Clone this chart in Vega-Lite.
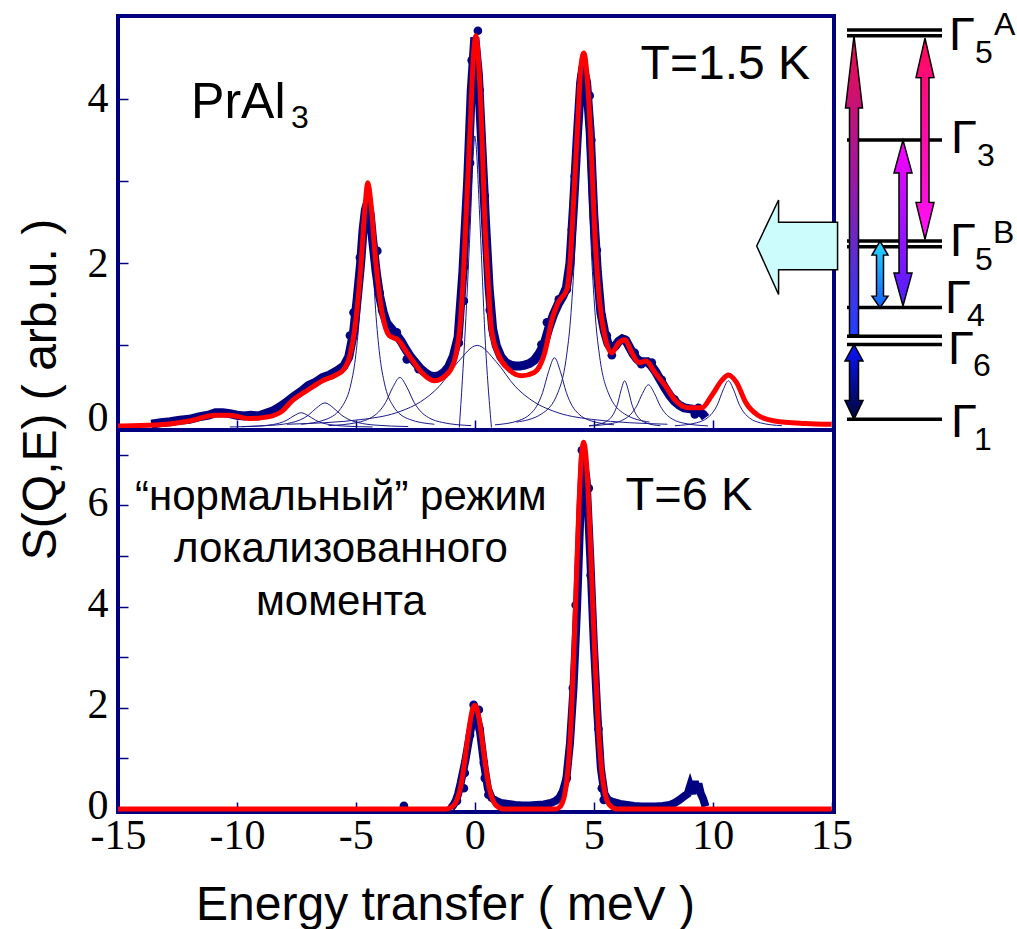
{
  "$schema": "https://vega.github.io/schema/vega-lite/v6.json",
  "autosize": {"type": "pad"},
  "padding": {"left": 15, "top": 6, "right": 0, "bottom": 0},
  "background": "white",
  "config": {
    "view": {"stroke": "#000080", "strokeWidth": 4},
    "axis": {"domain": false, "grid": false, "tickColor": "#000080", "tickWidth": 1.5, "tickSize": -10, "labelFont": "Liberation Serif", "labelFontSize": 42, "labelColor": "black", "labelFlush": false, "labelOverlap": false, "titleFont": "Liberation Sans", "titleFontSize": 48, "titleFontWeight": "normal", "titleColor": "black"},
    "text": {"font": "Liberation Sans", "color": "black"}
  },
  "datasets": {
    "fit15": [
      {"x": -15, "v": 0.02}, {"x": -14.75, "v": 0.02}, {"x": -13.4, "v": 0.03}, {"x": -12.0, "v": 0.08}, {"x": -10.9, "v": 0.15}, {"x": -10.3, "v": 0.15}, {"x": -9.5, "v": 0.11}, {"x": -8.7, "v": 0.13}, {"x": -8.1, "v": 0.2}, {"x": -7.7, "v": 0.32}, {"x": -7.0, "v": 0.46}, {"x": -6.4, "v": 0.57}, {"x": -5.9, "v": 0.63}, {"x": -5.5, "v": 0.71}, {"x": -5.25, "v": 0.88}, {"x": -5.0, "v": 1.31}, {"x": -4.8, "v": 1.92}, {"x": -4.6, "v": 2.74}, {"x": -4.5, "v": 2.98}, {"x": -4.37, "v": 2.74}, {"x": -4.2, "v": 2.13}, {"x": -3.9, "v": 1.4}, {"x": -3.6, "v": 1.12}, {"x": -3.2, "v": 1.06}, {"x": -2.94, "v": 0.95}, {"x": -2.5, "v": 0.77}, {"x": -2.2, "v": 0.66}, {"x": -1.7, "v": 0.57}, {"x": -1.1, "v": 0.67}, {"x": -0.8, "v": 0.88}, {"x": -0.6, "v": 1.31}, {"x": -0.47, "v": 1.92}, {"x": -0.34, "v": 2.74}, {"x": -0.2, "v": 3.62}, {"x": -0.05, "v": 4.56}, {"x": 0.04, "v": 4.77}, {"x": 0.18, "v": 4.35}, {"x": 0.3, "v": 3.55}, {"x": 0.42, "v": 2.53}, {"x": 0.57, "v": 1.73}, {"x": 0.7, "v": 1.19}, {"x": 1.0, "v": 0.88}, {"x": 1.42, "v": 0.71}, {"x": 1.97, "v": 0.63}, {"x": 2.5, "v": 0.67}, {"x": 2.94, "v": 0.91}, {"x": 3.24, "v": 1.31}, {"x": 3.5, "v": 1.52}, {"x": 3.87, "v": 1.68}, {"x": 4.0, "v": 2.0}, {"x": 4.15, "v": 2.74}, {"x": 4.3, "v": 3.55}, {"x": 4.45, "v": 4.35}, {"x": 4.58, "v": 4.56}, {"x": 4.75, "v": 4.16}, {"x": 4.87, "v": 3.55}, {"x": 5.05, "v": 2.33}, {"x": 5.25, "v": 1.52}, {"x": 5.46, "v": 1.12}, {"x": 5.75, "v": 0.91}, {"x": 6.05, "v": 1.03}, {"x": 6.3, "v": 1.07}, {"x": 6.6, "v": 0.91}, {"x": 6.9, "v": 0.79}, {"x": 7.2, "v": 0.81}, {"x": 7.57, "v": 0.67}, {"x": 8.0, "v": 0.51}, {"x": 8.4, "v": 0.34}, {"x": 9.0, "v": 0.24}, {"x": 9.54, "v": 0.24}, {"x": 9.96, "v": 0.39}, {"x": 10.4, "v": 0.58}, {"x": 10.66, "v": 0.64}, {"x": 11.0, "v": 0.55}, {"x": 11.4, "v": 0.3}, {"x": 11.9, "v": 0.15}, {"x": 12.6, "v": 0.08}, {"x": 13.9, "v": 0.05}, {"x": 15.0, "v": 0.04}
    ],
    "data15": [
      {"x": -13.6, "v": 0.04}, {"x": -13.2, "v": 0.06}, {"x": -12.8, "v": 0.07}, {"x": -12.4, "v": 0.09}, {"x": -12.0, "v": 0.1}, {"x": -11.6, "v": 0.13}, {"x": -11.2, "v": 0.15}, {"x": -10.9, "v": 0.18}, {"x": -10.6, "v": 0.18}, {"x": -10.3, "v": 0.17}, {"x": -10.0, "v": 0.15}, {"x": -9.7, "v": 0.14}, {"x": -9.4, "v": 0.15}, {"x": -9.1, "v": 0.14}, {"x": -8.8, "v": 0.17}, {"x": -8.5, "v": 0.2}, {"x": -8.2, "v": 0.25}, {"x": -7.9, "v": 0.31}, {"x": -7.6, "v": 0.38}, {"x": -7.3, "v": 0.44}, {"x": -7.0, "v": 0.51}, {"x": -6.7, "v": 0.55}, {"x": -6.4, "v": 0.61}, {"x": -6.1, "v": 0.64}, {"x": -5.8, "v": 0.69}, {"x": -5.5, "v": 0.75}, {"x": -5.3, "v": 0.86}, {"x": -5.1, "v": 1.15}, {"x": -4.95, "v": 1.55}, {"x": -4.8, "v": 2.0}, {"x": -4.7, "v": 2.4}, {"x": -4.6, "v": 2.65}, {"x": -4.5, "v": 2.75}, {"x": -4.4, "v": 2.6}, {"x": -4.3, "v": 2.3}, {"x": -4.15, "v": 1.9}, {"x": -4.0, "v": 1.6}, {"x": -3.85, "v": 1.4}, {"x": -3.7, "v": 1.27}, {"x": -3.5, "v": 1.2}, {"x": -3.3, "v": 1.13}, {"x": -3.1, "v": 1.05}, {"x": -2.9, "v": 0.95}, {"x": -2.7, "v": 0.86}, {"x": -2.5, "v": 0.79}, {"x": -2.3, "v": 0.72}, {"x": -2.1, "v": 0.67}, {"x": -1.9, "v": 0.63}, {"x": -1.7, "v": 0.62}, {"x": -1.5, "v": 0.63}, {"x": -1.3, "v": 0.67}, {"x": -1.1, "v": 0.74}, {"x": -0.9, "v": 0.87}, {"x": -0.7, "v": 1.1}, {"x": -0.5, "v": 1.9}, {"x": -0.3, "v": 3.0}, {"x": -0.15, "v": 4.1}, {"x": 0.0, "v": 4.75}, {"x": 0.15, "v": 4.3}, {"x": 0.3, "v": 3.4}, {"x": 0.45, "v": 2.5}, {"x": 0.6, "v": 1.7}, {"x": 0.75, "v": 1.2}, {"x": 0.9, "v": 1.0}, {"x": 1.1, "v": 0.86}, {"x": 1.3, "v": 0.79}, {"x": 1.5, "v": 0.76}, {"x": 1.7, "v": 0.75}, {"x": 1.9, "v": 0.75}, {"x": 2.1, "v": 0.76}, {"x": 2.3, "v": 0.78}, {"x": 2.5, "v": 0.82}, {"x": 2.7, "v": 0.9}, {"x": 2.9, "v": 1.0}, {"x": 3.1, "v": 1.2}, {"x": 3.3, "v": 1.37}, {"x": 3.5, "v": 1.5}, {"x": 3.7, "v": 1.6}, {"x": 3.85, "v": 1.7}, {"x": 4.0, "v": 2.0}, {"x": 4.15, "v": 2.7}, {"x": 4.3, "v": 3.5}, {"x": 4.45, "v": 4.2}, {"x": 4.55, "v": 4.4}, {"x": 4.7, "v": 4.2}, {"x": 4.85, "v": 3.6}, {"x": 5.0, "v": 2.6}, {"x": 5.15, "v": 1.9}, {"x": 5.3, "v": 1.4}, {"x": 5.45, "v": 1.17}, {"x": 5.6, "v": 1.02}, {"x": 5.75, "v": 0.96}, {"x": 5.9, "v": 0.99}, {"x": 6.05, "v": 1.05}, {"x": 6.2, "v": 1.08}, {"x": 6.35, "v": 1.06}, {"x": 6.5, "v": 0.98}, {"x": 6.65, "v": 0.9}, {"x": 6.8, "v": 0.84}, {"x": 6.95, "v": 0.8}, {"x": 7.1, "v": 0.8}, {"x": 7.25, "v": 0.8}, {"x": 7.4, "v": 0.76}, {"x": 7.6, "v": 0.68}, {"x": 7.8, "v": 0.58}, {"x": 8.0, "v": 0.48}, {"x": 8.2, "v": 0.39}, {"x": 8.4, "v": 0.32}, {"x": 8.6, "v": 0.27}, {"x": 8.8, "v": 0.24}, {"x": 9.0, "v": 0.23}, {"x": 9.2, "v": 0.22}, {"x": 9.4, "v": 0.2}, {"x": 9.6, "v": 0.16}, {"x": 9.7, "v": 0.12}
    ],
    "dots15": [
      {"x": -5.25, "v": 1.12}, {"x": -5.1, "v": 1.4}, {"x": -4.83, "v": 2.07}, {"x": -4.55, "v": 2.58}, {"x": -4.1, "v": 2.15}, {"x": -4.0, "v": 1.64}, {"x": -3.9, "v": 1.43}, {"x": -3.28, "v": 1.16}, {"x": -2.86, "v": 0.83}, {"x": -2.36, "v": 0.71}, {"x": -0.67, "v": 1.03}, {"x": -0.46, "v": 1.54}, {"x": -0.46, "v": 1.95}, {"x": -0.2, "v": 3.22}, {"x": -0.13, "v": 4.47}, {"x": 0.13, "v": 4.83}, {"x": 0.2, "v": 4.11}, {"x": 0.42, "v": 2.82}, {"x": 0.5, "v": 2.27}, {"x": 0.63, "v": 1.43}, {"x": 0.8, "v": 1.12}, {"x": 2.8, "v": 1.01}, {"x": 3.03, "v": 1.28}, {"x": 3.53, "v": 1.56}, {"x": 3.87, "v": 1.68}, {"x": 4.08, "v": 2.41}, {"x": 4.2, "v": 3.06}, {"x": 4.5, "v": 4.29}, {"x": 4.83, "v": 4.04}, {"x": 4.9, "v": 3.5}, {"x": 5.13, "v": 2.16}, {"x": 5.34, "v": 1.36}, {"x": 5.55, "v": 1.12}, {"x": 5.76, "v": 0.88}, {"x": 6.3, "v": 1.07}, {"x": 6.72, "v": 0.91}, {"x": 7.0, "v": 0.77}, {"x": 7.44, "v": 0.79}, {"x": 7.86, "v": 0.58}, {"x": 8.4, "v": 0.34}, {"x": 9.25, "v": 0.16}, {"x": 9.4, "v": 0.24}
    ],
    "comp15": [
      {"c": "C1", "x": -0.65, "v": 0}, {"c": "C1", "x": -0.4, "v": 1.2}, {"c": "C1", "x": -0.2, "v": 2.4}, {"c": "C1", "x": -0.05, "v": 3.4}, {"c": "C1", "x": 0, "v": 3.55}, {"c": "C1", "x": 0.05, "v": 3.45}, {"c": "C1", "x": 0.2, "v": 2.6}, {"c": "C1", "x": 0.45, "v": 1.0}, {"c": "C1", "x": 0.7, "v": 0},
      {"c": "C2", "x": -7.9, "v": 0.04}, {"c": "C2", "x": -4.7, "v": 0.1}, {"c": "C2", "x": -3.1, "v": 0.2}, {"c": "C2", "x": -2.3, "v": 0.31}, {"c": "C2", "x": -1.5, "v": 0.5}, {"c": "C2", "x": -0.7, "v": 0.8}, {"c": "C2", "x": 0.1, "v": 1.0}, {"c": "C2", "x": 0.9, "v": 0.8}, {"c": "C2", "x": 1.7, "v": 0.5}, {"c": "C2", "x": 2.5, "v": 0.31}, {"c": "C2", "x": 3.3, "v": 0.2}, {"c": "C2", "x": 4.9, "v": 0.1}, {"c": "C2", "x": 8.1, "v": 0.04},
      {"c": "C3", "x": -7.3, "v": 0.04}, {"c": "C3", "x": -6.25, "v": 0.1}, {"c": "C3", "x": -5.55, "v": 0.27}, {"c": "C3", "x": -5.2, "v": 0.54}, {"c": "C3", "x": -5.025, "v": 0.83}, {"c": "C3", "x": -4.85, "v": 1.35}, {"c": "C3", "x": -4.675, "v": 2.16}, {"c": "C3", "x": -4.5, "v": 2.7}, {"c": "C3", "x": -4.325, "v": 2.16}, {"c": "C3", "x": -4.15, "v": 1.35}, {"c": "C3", "x": -3.975, "v": 0.83}, {"c": "C3", "x": -3.8, "v": 0.54}, {"c": "C3", "x": -3.45, "v": 0.27}, {"c": "C3", "x": -2.75, "v": 0.1}, {"c": "C3", "x": -1.7, "v": 0.04},
      {"c": "C4", "x": -6.15, "v": 0.023}, {"c": "C4", "x": -4.95, "v": 0.061}, {"c": "C4", "x": -4.35, "v": 0.122}, {"c": "C4", "x": -4.05, "v": 0.188}, {"c": "C4", "x": -3.75, "v": 0.305}, {"c": "C4", "x": -3.45, "v": 0.488}, {"c": "C4", "x": -3.15, "v": 0.61}, {"c": "C4", "x": -2.85, "v": 0.488}, {"c": "C4", "x": -2.55, "v": 0.305}, {"c": "C4", "x": -2.25, "v": 0.188}, {"c": "C4", "x": -1.95, "v": 0.122}, {"c": "C4", "x": -1.35, "v": 0.061}, {"c": "C4", "x": -0.15, "v": 0.023},
      {"c": "C5", "x": -9.8, "v": 0.012}, {"c": "C5", "x": -8.4, "v": 0.03}, {"c": "C5", "x": -7.7, "v": 0.06}, {"c": "C5", "x": -7.35, "v": 0.092}, {"c": "C5", "x": -7.0, "v": 0.15}, {"c": "C5", "x": -6.65, "v": 0.24}, {"c": "C5", "x": -6.3, "v": 0.3}, {"c": "C5", "x": -5.95, "v": 0.24}, {"c": "C5", "x": -5.6, "v": 0.15}, {"c": "C5", "x": -5.25, "v": 0.092}, {"c": "C5", "x": -4.9, "v": 0.06}, {"c": "C5", "x": -4.2, "v": 0.03}, {"c": "C5", "x": -2.8, "v": 0.012},
      {"c": "C6", "x": -10.3, "v": 0.007}, {"c": "C6", "x": -9.1, "v": 0.018}, {"c": "C6", "x": -8.5, "v": 0.036}, {"c": "C6", "x": -8.2, "v": 0.055}, {"c": "C6", "x": -7.9, "v": 0.09}, {"c": "C6", "x": -7.6, "v": 0.144}, {"c": "C6", "x": -7.3, "v": 0.18}, {"c": "C6", "x": -7.0, "v": 0.144}, {"c": "C6", "x": -6.7, "v": 0.09}, {"c": "C6", "x": -6.4, "v": 0.055}, {"c": "C6", "x": -6.1, "v": 0.036}, {"c": "C6", "x": -5.5, "v": 0.018}, {"c": "C6", "x": -4.3, "v": 0.007},
      {"c": "C7", "x": 0.85, "v": 0.033}, {"c": "C7", "x": 1.85, "v": 0.085}, {"c": "C7", "x": 2.35, "v": 0.17}, {"c": "C7", "x": 2.6, "v": 0.26}, {"c": "C7", "x": 2.85, "v": 0.425}, {"c": "C7", "x": 3.1, "v": 0.68}, {"c": "C7", "x": 3.35, "v": 0.85}, {"c": "C7", "x": 3.6, "v": 0.68}, {"c": "C7", "x": 3.85, "v": 0.425}, {"c": "C7", "x": 4.1, "v": 0.26}, {"c": "C7", "x": 4.35, "v": 0.17}, {"c": "C7", "x": 4.85, "v": 0.085}, {"c": "C7", "x": 5.85, "v": 0.033},
      {"c": "C8", "x": 1.75, "v": 0.066}, {"c": "C8", "x": 2.8, "v": 0.165}, {"c": "C8", "x": 3.5, "v": 0.43}, {"c": "C8", "x": 3.85, "v": 0.86}, {"c": "C8", "x": 4.025, "v": 1.32}, {"c": "C8", "x": 4.2, "v": 2.15}, {"c": "C8", "x": 4.375, "v": 3.44}, {"c": "C8", "x": 4.55, "v": 4.3}, {"c": "C8", "x": 4.725, "v": 3.44}, {"c": "C8", "x": 4.9, "v": 2.15}, {"c": "C8", "x": 5.075, "v": 1.32}, {"c": "C8", "x": 5.25, "v": 0.86}, {"c": "C8", "x": 5.6, "v": 0.43}, {"c": "C8", "x": 6.3, "v": 0.165}, {"c": "C8", "x": 7.35, "v": 0.066},
      {"c": "C9", "x": 4.8, "v": 0.022}, {"c": "C9", "x": 5.4, "v": 0.057}, {"c": "C9", "x": 5.7, "v": 0.114}, {"c": "C9", "x": 5.85, "v": 0.176}, {"c": "C9", "x": 6.0, "v": 0.285}, {"c": "C9", "x": 6.15, "v": 0.456}, {"c": "C9", "x": 6.3, "v": 0.57}, {"c": "C9", "x": 6.45, "v": 0.456}, {"c": "C9", "x": 6.6, "v": 0.285}, {"c": "C9", "x": 6.75, "v": 0.176}, {"c": "C9", "x": 6.9, "v": 0.114}, {"c": "C9", "x": 7.2, "v": 0.057}, {"c": "C9", "x": 7.8, "v": 0.022},
      {"c": "C10", "x": 4.8, "v": 0.02}, {"c": "C10", "x": 5.8, "v": 0.052}, {"c": "C10", "x": 6.3, "v": 0.104}, {"c": "C10", "x": 6.55, "v": 0.16}, {"c": "C10", "x": 6.8, "v": 0.26}, {"c": "C10", "x": 7.05, "v": 0.416}, {"c": "C10", "x": 7.3, "v": 0.52}, {"c": "C10", "x": 7.55, "v": 0.416}, {"c": "C10", "x": 7.8, "v": 0.26}, {"c": "C10", "x": 8.05, "v": 0.16}, {"c": "C10", "x": 8.3, "v": 0.104}, {"c": "C10", "x": 8.8, "v": 0.052}, {"c": "C10", "x": 9.8, "v": 0.02},
      {"c": "C11", "x": 8.41, "v": 0.022}, {"c": "C11", "x": 9.31, "v": 0.057}, {"c": "C11", "x": 9.76, "v": 0.114}, {"c": "C11", "x": 9.985, "v": 0.176}, {"c": "C11", "x": 10.21, "v": 0.285}, {"c": "C11", "x": 10.435, "v": 0.456}, {"c": "C11", "x": 10.66, "v": 0.57}, {"c": "C11", "x": 10.885, "v": 0.456}, {"c": "C11", "x": 11.11, "v": 0.285}, {"c": "C11", "x": 11.335, "v": 0.176}, {"c": "C11", "x": 11.56, "v": 0.114}, {"c": "C11", "x": 12.01, "v": 0.057}, {"c": "C11", "x": 12.91, "v": 0.022}
    ],
    "cyan": [
      {"x": 11.85, "v": 2.21, "v2": 2.21}, {"x": 12.77, "v": 1.62, "v2": 2.77}, {"x": 12.771, "v": 1.92, "v2": 2.5}, {"x": 15.25, "v": 1.92, "v2": 2.5}
    ],
    "ann15": [
      {"x": -11.93, "v": 3.77, "t": "PrAl", "k": "pr"}, {"x": -7.73, "v": 3.65, "t": "3", "k": "sub"}, {"x": 6.97, "v": 4.24, "t": "T=1.5 K", "k": "big"}
    ],
    "fit6": [
      {"x": -15, "v": 0}, {"x": -1.2, "v": 0}, {"x": -1.0, "v": 0.03}, {"x": -0.8, "v": 0.13}, {"x": -0.7, "v": 0.25}, {"x": -0.6, "v": 0.43}, {"x": -0.5, "v": 0.7}, {"x": -0.4, "v": 1.03}, {"x": -0.3, "v": 1.39}, {"x": -0.2, "v": 1.72}, {"x": -0.1, "v": 1.96}, {"x": 0, "v": 2.05}, {"x": 0.1, "v": 1.96}, {"x": 0.2, "v": 1.72}, {"x": 0.3, "v": 1.39}, {"x": 0.4, "v": 1.03}, {"x": 0.5, "v": 0.7}, {"x": 0.6, "v": 0.43}, {"x": 0.7, "v": 0.25}, {"x": 0.8, "v": 0.13}, {"x": 1.0, "v": 0.03}, {"x": 1.2, "v": 0}, {"x": 3.4, "v": 0}, {"x": 3.57, "v": 0.04}, {"x": 3.67, "v": 0.11}, {"x": 3.77, "v": 0.26}, {"x": 3.87, "v": 0.57}, {"x": 3.97, "v": 1.11}, {"x": 4.07, "v": 1.97}, {"x": 4.17, "v": 3.15}, {"x": 4.27, "v": 4.54}, {"x": 4.37, "v": 5.89}, {"x": 4.47, "v": 6.88}, {"x": 4.57, "v": 7.25}, {"x": 4.67, "v": 6.98}, {"x": 4.77, "v": 6.21}, {"x": 4.87, "v": 5.12}, {"x": 4.97, "v": 3.91}, {"x": 5.07, "v": 2.76}, {"x": 5.17, "v": 1.81}, {"x": 5.27, "v": 1.09}, {"x": 5.37, "v": 0.61}, {"x": 5.47, "v": 0.32}, {"x": 5.57, "v": 0.15}, {"x": 5.77, "v": 0.03}, {"x": 5.97, "v": 0}, {"x": 15, "v": 0}
    ],
    "data6": [
      {"x": -1.0, "v": 0.02}, {"x": -0.9, "v": 0.08}, {"x": -0.8, "v": 0.16}, {"x": -0.7, "v": 0.3}, {"x": -0.6, "v": 0.5}, {"x": -0.4, "v": 0.95}, {"x": -0.2, "v": 1.5}, {"x": 0, "v": 2.0}, {"x": 0.2, "v": 1.6}, {"x": 0.4, "v": 0.85}, {"x": 0.55, "v": 0.4}, {"x": 0.7, "v": 0.22}, {"x": 0.9, "v": 0.16}, {"x": 1.1, "v": 0.12}, {"x": 1.4, "v": 0.1}, {"x": 1.7, "v": 0.08}, {"x": 2.0, "v": 0.07}, {"x": 2.3, "v": 0.07}, {"x": 2.6, "v": 0.08}, {"x": 2.9, "v": 0.09}, {"x": 3.2, "v": 0.12}, {"x": 3.4, "v": 0.16}, {"x": 3.55, "v": 0.22}, {"x": 3.7, "v": 0.35}, {"x": 3.85, "v": 0.6}, {"x": 4.0, "v": 1.3}, {"x": 4.15, "v": 2.4}, {"x": 4.3, "v": 4.0}, {"x": 4.45, "v": 6.0}, {"x": 4.55, "v": 7.0}, {"x": 4.7, "v": 6.5}, {"x": 4.85, "v": 5.0}, {"x": 5.0, "v": 3.3}, {"x": 5.15, "v": 1.9}, {"x": 5.3, "v": 0.8}, {"x": 5.45, "v": 0.3}, {"x": 5.6, "v": 0.18}, {"x": 5.8, "v": 0.14}, {"x": 6.1, "v": 0.1}, {"x": 6.4, "v": 0.08}, {"x": 6.7, "v": 0.06}, {"x": 7.0, "v": 0.05}, {"x": 7.3, "v": 0.05}, {"x": 7.6, "v": 0.05}, {"x": 7.9, "v": 0.06}, {"x": 8.2, "v": 0.08}, {"x": 8.4, "v": 0.12}, {"x": 8.6, "v": 0.18}, {"x": 8.8, "v": 0.25}, {"x": 8.95, "v": 0.3}, {"x": 9.05, "v": 0.45}, {"x": 9.15, "v": 0.3}, {"x": 9.25, "v": 0.55}, {"x": 9.32, "v": 0.35}, {"x": 9.4, "v": 0.5}, {"x": 9.5, "v": 0.3}, {"x": 9.6, "v": 0.2}, {"x": 9.7, "v": 0.05}
    ],
    "dots6": [
      {"x": -2.98, "v": 0.06}, {"x": -0.75, "v": 0.16}, {"x": -0.46, "v": 0.41}, {"x": -0.42, "v": 0.71}, {"x": -0.2, "v": 1.46}, {"x": -0.05, "v": 2.06}, {"x": 0.17, "v": 1.96}, {"x": 0.2, "v": 1.58}, {"x": 0.38, "v": 0.91}, {"x": 0.42, "v": 0.61}, {"x": 0.57, "v": 0.28}, {"x": 3.87, "v": 0.61}, {"x": 4.12, "v": 2.39}, {"x": 4.24, "v": 4.03}, {"x": 4.5, "v": 7.09}, {"x": 4.79, "v": 6.34}, {"x": 4.87, "v": 4.62}, {"x": 5.2, "v": 1.58}, {"x": 5.34, "v": 0.41}, {"x": 5.42, "v": 0.18}
    ],
    "ann6": [
      {"x": 6.34, "v": 5.91, "t": "T=6 K", "k": "T"},
      {"x": -5.63, "v": 5.91, "t": "“нормальный” режим\nлокализованного\nмомента", "k": "ru"}
    ],
    "levels": [
      {"lv": "Γ5A", "E": 4.84, "xl": 1.3, "xr": 10.8}, {"lv": "Γ5A", "E": 4.77, "xl": 1.3, "xr": 10.8}, {"lv": "Γ3", "E": 3.5, "xl": 1.3, "xr": 10.8}, {"lv": "Γ5B", "E": 2.27, "xl": 1.3, "xr": 10.8}, {"lv": "Γ5B", "E": 2.2, "xl": 1.3, "xr": 10.8}, {"lv": "Γ4", "E": 1.46, "xl": 1.3, "xr": 10.8}, {"lv": "Γ6", "E": 1.11, "xl": 1.3, "xr": 10.8}, {"lv": "Γ6", "E": 1.01, "xl": 1.3, "xr": 10.8}, {"lv": "Γ1", "E": 0.1, "xl": 1.3, "xr": 10.8}
    ],
    "arrows": [
      {"a": 1, "E": 1.13, "xl": 1.55, "xr": 2.45}, {"a": 1, "E": 3.89, "xl": 1.55, "xr": 2.45}, {"a": 1, "E": 3.891, "xl": 1.15, "xr": 2.85}, {"a": 1, "E": 4.77, "xl": 2.0, "xr": 2.0},
      {"a": 2, "E": 2.29, "xl": 9.1, "xr": 9.1}, {"a": 2, "E": 2.74, "xl": 8.2, "xr": 10.0}, {"a": 2, "E": 2.741, "xl": 8.7, "xr": 9.5}, {"a": 2, "E": 4.259, "xl": 8.7, "xr": 9.5}, {"a": 2, "E": 4.26, "xl": 8.2, "xr": 10.0}, {"a": 2, "E": 4.74, "xl": 9.1, "xr": 9.1},
      {"a": 3, "E": 1.48, "xl": 6.9, "xr": 6.9}, {"a": 3, "E": 1.88, "xl": 6.0, "xr": 7.8}, {"a": 3, "E": 1.881, "xl": 6.5, "xr": 7.3}, {"a": 3, "E": 3.099, "xl": 6.5, "xr": 7.3}, {"a": 3, "E": 3.1, "xl": 6.0, "xr": 7.8}, {"a": 3, "E": 3.5, "xl": 6.9, "xr": 6.9},
      {"a": 4, "E": 1.46, "xl": 4.6, "xr": 4.6}, {"a": 4, "E": 1.6, "xl": 3.8, "xr": 5.4}, {"a": 4, "E": 1.601, "xl": 4.25, "xr": 4.95}, {"a": 4, "E": 2.099, "xl": 4.25, "xr": 4.95}, {"a": 4, "E": 2.1, "xl": 3.8, "xr": 5.4}, {"a": 4, "E": 2.27, "xl": 4.6, "xr": 4.6},
      {"a": 5, "E": 0.1, "xl": 2.0, "xr": 2.0}, {"a": 5, "E": 0.33, "xl": 1.1, "xr": 2.9}, {"a": 5, "E": 0.331, "xl": 1.55, "xr": 2.45}, {"a": 5, "E": 0.809, "xl": 1.55, "xr": 2.45}, {"a": 5, "E": 0.81, "xl": 1.1, "xr": 2.9}, {"a": 5, "E": 1.01, "xl": 2.0, "xr": 2.0}
    ],
    "glab": [
      {"t": "Γ", "xl": 11.5, "E": 4.6, "k": "g"}, {"t": "5", "xl": 14.1, "E": 4.44, "k": "s"}, {"t": "A", "xl": 16.0, "E": 4.78, "k": "s"},
      {"t": "Γ", "xl": 11.7, "E": 3.34, "k": "g"}, {"t": "3", "xl": 14.3, "E": 3.19, "k": "s"},
      {"t": "Γ", "xl": 11.6, "E": 2.09, "k": "g"}, {"t": "5", "xl": 14.1, "E": 1.92, "k": "s"}, {"t": "B", "xl": 15.9, "E": 2.25, "k": "s"},
      {"t": "Γ", "xl": 11.1, "E": 1.4, "k": "g"}, {"t": "4", "xl": 13.3, "E": 1.24, "k": "s"},
      {"t": "Γ", "xl": 11.4, "E": 0.77, "k": "g"}, {"t": "6", "xl": 13.9, "E": 0.63, "k": "s"},
      {"t": "Γ", "xl": 11.7, "E": -0.12, "k": "g"}, {"t": "1", "xl": 14.0, "E": -0.27, "k": "s"}
    ]
  },
  "spacing": 0,
  "bounds": "flush",
  "vconcat": [
    {
      "width": 716,
      "height": 414,
      "resolve": {"scale": {"x": "independent", "y": "independent"}, "axis": {"x": "independent", "y": "independent"}},
      "layer": [
        {
          "encoding": {
            "x": {"field": "x", "type": "quantitative", "scale": {"domain": [-15, 15.1], "nice": false, "zero": false}, "axis": {"orient": "bottom", "values": [-15, -10, -5, 0, 5, 10, 15], "labels": false, "title": null}},
            "y": {"field": "v", "type": "quantitative", "scale": {"domain": [-0.03, 5.01], "nice": false, "zero": false}, "axis": {"values": [0, 1, 2, 3, 4], "labelExpr": "datum.value % 2 == 0 ? datum.label : ''", "labelPadding": 20, "labelOffset": {"condition": {"test": "datum.value == 0", "value": -10}, "value": 0}, "title": "S(Q,E) ( arb.u. )", "titleX": -77, "titleY": 373, "titleAngle": -90, "titleAlign": "center", "titleBaseline": "middle"}}
          },
          "layer": [
            {"data": {"name": "comp15"}, "mark": {"type": "line", "color": "#1a1a8c", "strokeWidth": 1, "interpolate": "monotone"}, "encoding": {"detail": {"field": "c", "type": "nominal"}}},
            {"data": {"name": "data15"}, "mark": {"type": "line", "color": "#000080", "strokeWidth": 9, "interpolate": "linear"}},
            {"data": {"name": "dots15"}, "mark": {"type": "point", "filled": true, "color": "#000080", "size": 75, "opacity": 1}},
            {"data": {"name": "fit15"}, "mark": {"type": "line", "color": "#ff0000", "strokeWidth": 5, "interpolate": "monotone"}},
            {"data": {"name": "cyan"}, "mark": {"type": "area", "orient": "vertical", "fill": "#ccfcfc", "stroke": "black", "strokeWidth": 1.5, "opacity": 1}, "encoding": {"y2": {"field": "v2"}}},
            {"data": {"name": "ann15"}, "transform": [{"filter": "datum.k == 'pr'"}], "mark": {"type": "text", "align": "left", "baseline": "alphabetic", "fontSize": 50}, "encoding": {"text": {"field": "t"}}},
            {"data": {"name": "ann15"}, "transform": [{"filter": "datum.k == 'big'"}], "mark": {"type": "text", "align": "left", "baseline": "alphabetic", "fontSize": 48}, "encoding": {"text": {"field": "t"}}},
            {"data": {"name": "ann15"}, "transform": [{"filter": "datum.k == 'sub'"}], "mark": {"type": "text", "align": "left", "baseline": "alphabetic", "fontSize": 32}, "encoding": {"text": {"field": "t"}}}
          ]
        },
        {
          "encoding": {
            "x": {"field": "xl", "type": "quantitative", "scale": {"domain": [0, 18.5], "range": [716, 901], "nice": false, "zero": false}, "axis": null},
            "y": {"field": "E", "type": "quantitative", "scale": {"domain": [-0.03, 5.01], "nice": false, "zero": false}, "axis": null}
          },
          "layer": [
            {"data": {"name": "levels"}, "mark": {"type": "rule", "color": "black", "strokeWidth": 3.5},
             "encoding": {"x2": {"field": "xr"}}},
            {"data": {"name": "arrows"}, "transform": [{"filter": "datum.a == 1"}], "mark": {"type": "area", "orient": "horizontal", "stroke": "black", "strokeWidth": 1.5, "opacity": 1, "fill": {"gradient": "linear", "x1": 0, "y1": 0, "x2": 0, "y2": 1, "stops": [{"offset": 0, "color": "#f00c4c"}, {"offset": 0.45, "color": "#a0189c"}, {"offset": 1, "color": "#2040ff"}]}},
             "encoding": {"x2": {"field": "xr"}}},
            {"data": {"name": "arrows"}, "transform": [{"filter": "datum.a == 2"}], "mark": {"type": "area", "orient": "horizontal", "stroke": "black", "strokeWidth": 1.5, "opacity": 1, "fill": {"gradient": "linear", "x1": 0, "y1": 0, "x2": 0, "y2": 1, "stops": [{"offset": 0, "color": "#ff0a58"}, {"offset": 1, "color": "#ff10ff"}]}},
             "encoding": {"x2": {"field": "xr"}}},
            {"data": {"name": "arrows"}, "transform": [{"filter": "datum.a == 3"}], "mark": {"type": "area", "orient": "horizontal", "stroke": "black", "strokeWidth": 1.5, "opacity": 1, "fill": {"gradient": "linear", "x1": 0, "y1": 0, "x2": 0, "y2": 1, "stops": [{"offset": 0, "color": "#ff00ff"}, {"offset": 1, "color": "#4a20ff"}]}},
             "encoding": {"x2": {"field": "xr"}}},
            {"data": {"name": "arrows"}, "transform": [{"filter": "datum.a == 4"}], "mark": {"type": "area", "orient": "horizontal", "stroke": "black", "strokeWidth": 1.5, "opacity": 1, "fill": {"gradient": "linear", "x1": 0, "y1": 0, "x2": 0, "y2": 1, "stops": [{"offset": 0, "color": "#28d8ff"}, {"offset": 1, "color": "#1060ff"}]}},
             "encoding": {"x2": {"field": "xr"}}},
            {"data": {"name": "arrows"}, "transform": [{"filter": "datum.a == 5"}], "mark": {"type": "area", "orient": "horizontal", "stroke": "black", "strokeWidth": 1.5, "opacity": 1, "fill": {"gradient": "linear", "x1": 0, "y1": 0, "x2": 0, "y2": 1, "stops": [{"offset": 0, "color": "#0a14ff"}, {"offset": 1, "color": "#000638"}]}},
             "encoding": {"x2": {"field": "xr"}}},
            {"data": {"name": "glab"}, "transform": [{"filter": "datum.k == 'g'"}], "mark": {"type": "text", "align": "left", "baseline": "alphabetic", "fontSize": 47},
             "encoding": {"text": {"field": "t"}}},
            {"data": {"name": "glab"}, "transform": [{"filter": "datum.k == 's'"}], "mark": {"type": "text", "align": "left", "baseline": "alphabetic", "fontSize": 32},
             "encoding": {"text": {"field": "t"}}}
          ]
        }
      ]
    },
    {
      "width": 716,
      "height": 382,
      "encoding": {
        "x": {"field": "x", "type": "quantitative", "scale": {"domain": [-15, 15.1], "nice": false, "zero": false}, "axis": {"orient": "bottom", "values": [-15, -10, -5, 0, 5, 10, 15], "labelExpr": "replace(datum.label, '−', '-')", "labelPadding": 13, "title": "Energy transfer ( meV )", "titleX": 327, "titleY": 107, "titleAlign": "center", "titleBaseline": "alphabetic"}},
        "y": {"field": "v", "type": "quantitative", "scale": {"domain": [-0.06, 7.49], "nice": false, "zero": false}, "axis": {"values": [0, 1, 2, 3, 4, 5, 6, 7], "labelExpr": "datum.value % 2 == 0 ? datum.label : ''", "labelPadding": 20, "labelOffset": -3, "title": null}}
      },
      "layer": [
        {"data": {"name": "data6"}, "mark": {"type": "line", "color": "#000080", "strokeWidth": 8, "interpolate": "linear"}},
        {"data": {"name": "dots6"}, "mark": {"type": "point", "filled": true, "color": "#000080", "size": 75, "opacity": 1}},
        {"data": {"name": "fit6"}, "mark": {"type": "line", "color": "#ff0000", "strokeWidth": 5, "interpolate": "monotone"}},
        {"data": {"name": "ann6"}, "transform": [{"filter": "datum.k == 'T'"}], "mark": {"type": "text", "align": "left", "baseline": "alphabetic", "fontSize": 47}, "encoding": {"text": {"field": "t"}}},
        {"data": {"name": "ann6"}, "transform": [{"filter": "datum.k == 'ru'"}], "mark": {"type": "text", "align": "center", "baseline": "alphabetic", "fontSize": 42, "lineBreak": "\n", "lineHeight": 52.5}, "encoding": {"text": {"field": "t"}}}
      ]
    }
  ]
}
